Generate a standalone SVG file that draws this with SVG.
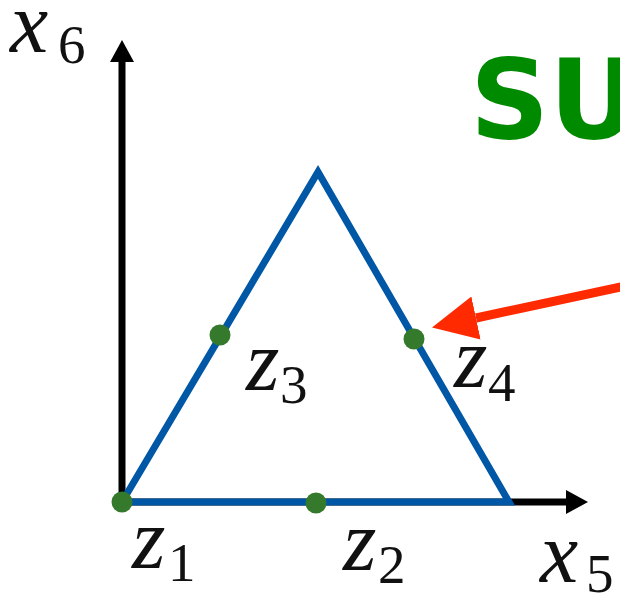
<svg xmlns="http://www.w3.org/2000/svg" width="620" height="597" viewBox="0 0 620 597">
<style>
.ax{stroke:#000;stroke-width:7;fill:none}
.tri{stroke:#0057A6;stroke-width:7;fill:none;stroke-linejoin:miter}
.dot{fill:#357A2C}
.m{font-family:"Liberation Serif",serif;font-style:italic;font-size:86px;fill:#111}
.s{font-family:"Liberation Serif",serif;font-size:55px;fill:#111}
.lbl{font-family:"DejaVu Sans",sans-serif;font-weight:bold;font-size:110px;fill:#008A00}
</style>
<defs>
<marker id="ah" markerUnits="userSpaceOnUse" markerWidth="24" markerHeight="24" refX="0" refY="12" orient="auto">
<path d="M0,0 L22,12 L0,24 z" fill="#000"/>
</marker>
<marker id="rh" markerUnits="userSpaceOnUse" markerWidth="46" markerHeight="44" refX="0" refY="22" orient="auto">
<path d="M0,0 L45,22 L0,44 z" fill="#FF2A00"/>
</marker>
</defs>
<g id="connectors">
<line class="ax" x1="122" y1="506" x2="122" y2="62" marker-end="url(#ah)"/>
<line class="ax" x1="118" y1="502" x2="566" y2="502" marker-end="url(#ah)"/>
<line x1="625" y1="286" x2="476" y2="318" stroke="#FF2A00" stroke-width="9" marker-end="url(#rh)"/>
</g>
<g id="triangle">
<polygon class="tri" points="122,502 318,172 509,502"/>
</g>
<g id="z1"><circle class="dot" cx="122" cy="502" r="10.5"/><text class="m" x="132" y="568">z</text><text class="s" x="168" y="581">1</text></g>
<g id="z2"><circle class="dot" cx="316" cy="503" r="10.5"/><text class="m" x="343" y="570">z</text><text class="s" x="378" y="583">2</text></g>
<g id="z3"><circle class="dot" cx="220" cy="335" r="10.5"/><text class="m" x="246" y="390">z</text><text class="s" x="280" y="403">3</text></g>
<g id="z4"><circle class="dot" cx="414" cy="339" r="10.5"/><text class="m" x="454" y="387">z</text><text class="s" x="488" y="401">4</text></g>
<g id="x6"><text class="m" x="10" y="52">x</text><text class="s" x="58" y="63">6</text></g>
<g id="x5"><text class="m" x="540" y="582">x</text><text class="s" x="586" y="592">5</text></g>
<g id="title"><text class="lbl" x="470" y="138">SU</text></g>
</svg>
